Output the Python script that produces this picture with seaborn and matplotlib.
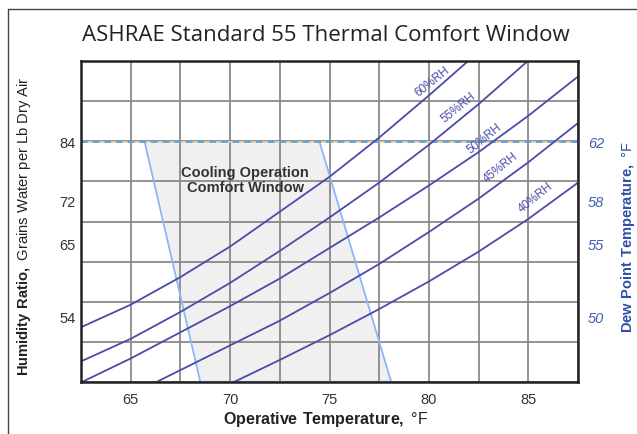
import numpy as np
import pandas as pd
import seaborn as sns
import matplotlib.pyplot as plt
from matplotlib.lines import Line2D

# operative temperature (F) and the dew point (F)
temps = [62.5, 65, 67.5, 70, 72.5, 75, 77.5, 80, 82.5, 85, 87.5]
rh60 = [49.25, 50.8, 52.7, 54.8, 57.2, 59.6, 62.3, 65.2, 68.2, 71.4, 74.6]
rh55 = [46.9, 48.45, 50.3, 52.3, 54.5, 56.8, 59.2, 61.8, 64.6, 67.6, 70.7]
rh50 = [45.45, 47.1, 48.9, 50.7, 52.6, 54.7, 56.8, 59.0, 61.3, 63.8, 66.5]
rh45 = [43.0, 44.6, 46.3, 48.0, 49.7, 51.6, 53.6, 55.8, 58.1, 60.6, 63.3]
rh40 = [40.9, 42.3, 43.8, 45.35, 47.0, 48.7, 50.5, 52.4, 54.45, 56.7, 59.2]
rh_names = ['60%RH', '55%RH', '50%RH', '45%RH', '40%RH']

# cooling comfort window corners
window_temp = [65.7, 74.5, 78.1, 68.5]
window_dewpt = [62, 62, 45.5, 45.5]

# right axis dew point ticks and matching humidity ratio (grains)
dewpt_ticks = [50, 55, 58, 62]
grains_ticks = [54, 65, 72, 84]

df = pd.DataFrame({
    'temp': temps * 5,
    'dewpt': rh60 + rh55 + rh50 + rh45 + rh40,
    'rh': sum([[n] * len(temps) for n in rh_names], []),
})

sns.set_theme(style='white')
plt.rcParams['font.family'] = ['Liberation Sans', 'DejaVu Sans']
plt.rcParams['mathtext.fontset'] = 'custom'
plt.rcParams['mathtext.rm'] = 'Liberation Sans'
plt.rcParams['mathtext.bf'] = 'Liberation Sans:bold'

fig = plt.figure(figsize=(6.37, 4.35), dpi=100)
ax = fig.add_axes([81 / 637, 1 - 383 / 435, 497 / 637, 321 / 435])

ylo, yhi = 45.48, 67.57
ax.set_xlim(62.5, 87.5)
ax.set_ylim(ylo, yhi)

# comfort window (fill under grid, edges on top)
ax.fill(window_temp, window_dewpt, color='#f0f0f0', lw=0, zorder=0.3)
ax.plot([window_temp[0], window_temp[3], window_temp[2], window_temp[1]],
        [window_dewpt[0], window_dewpt[3], window_dewpt[2], window_dewpt[1]],
        color='#8bb8f2', lw=1.3, zorder=2)

# 84 grains line
ax.axhline(62, color='#e8cfa0', lw=1.2, zorder=2)
ax.axhline(62, color='#4aa3e8', lw=1.2, ls=(0, (4, 3)), zorder=2.1)

sns.lineplot(data=df, x='temp', y='dewpt', hue='rh', palette=['#4b4bab'] * 5,
             lw=1.3, legend=False, ax=ax, zorder=3)

# grid
ax.set_xticks([65, 70, 75, 80, 85])
ax.set_xticks(np.arange(62.5, 88, 2.5), minor=True)
ax.set_yticks(dewpt_ticks, labels=[str(g) for g in grains_ticks])
ax.set_yticks(np.linspace(ylo, yhi, 9), minor=True)
ax.set_axisbelow(True)
ax.grid(False)
ax.xaxis.grid(True, which='both', color='#8a8a8a', lw=1.3)
ax.yaxis.grid(True, which='minor', color='#8a8a8a', lw=1.3)
ax.tick_params(which='both', length=0)
ax.tick_params(axis='x', labelsize=10.5, pad=7, colors='#333333')
ax.tick_params(axis='y', labelsize=10.5, pad=4, colors='#333333')
for s in ax.spines.values():
    s.set_color('#222222')
    s.set_linewidth(1.8)
    s.set_zorder(4)

ax.set_xlabel(r'$\mathbf{Operative\ Temperature,}$ °F', fontsize=11.5, color='#222222')
ax.xaxis.set_label_coords(0.493, -0.083)
ax.set_ylabel(r'$\mathbf{Humidity\ Ratio,}$ Grains Water per Lb Dry Air', fontsize=10.6, color='#222222')
ax.yaxis.set_label_coords(-0.097, 0.489)

ax2 = ax.twinx()
ax2.set_ylim(ylo, yhi)
ax2.set_yticks(dewpt_ticks, labels=[str(d) for d in dewpt_ticks])
ax2.grid(False)
ax2.tick_params(length=0, labelsize=10.5, pad=7, colors='#3f5fb0')
for t in ax2.get_yticklabels():
    t.set_style('italic')
for s in ax2.spines.values():
    s.set_visible(False)
ax2.set_ylabel(r'$\mathbf{Dew\ Point\ Temperature,}$ °F', fontsize=10.5, color='#2f4fa8')
ax2.yaxis.set_label_coords(1.082, 0.455)

# RH labels along the curves
label_pos = [(80.15, 66.2), (81.5, 64.4), (82.8, 62.3), (83.6, 60.3), (85.35, 58.2)]
for name, (x, y) in zip(rh_names, label_pos):
    ax.text(x, y, name, rotation=39, ha='center', va='center', fontsize=8.5,
            color='#4b4bab', zorder=5)

ax.text(70.75, 59.4, 'Cooling Operation\nComfort Window', ha='center', va='center',
        fontsize=10.5, fontweight='bold', color='#333333', linespacing=1.1, zorder=5)

fig.text(326 / 637, 1 - 36 / 435, 'ASHRAE Standard 55 Thermal Comfort Window',
         ha='center', va='center', fontsize=16, family=['Open Sans', 'DejaVu Sans'],
         color='#222222')

# outer frame
fig.add_artist(Line2D([8 / 637, 1], [1 - 10 / 435] * 2, color='#444444', lw=1,
                      transform=fig.transFigure))
fig.add_artist(Line2D([8 / 637] * 2, [0, 1 - 10 / 435], color='#444444', lw=1,
                      transform=fig.transFigure))

fig.savefig('out.png', dpi=100)
